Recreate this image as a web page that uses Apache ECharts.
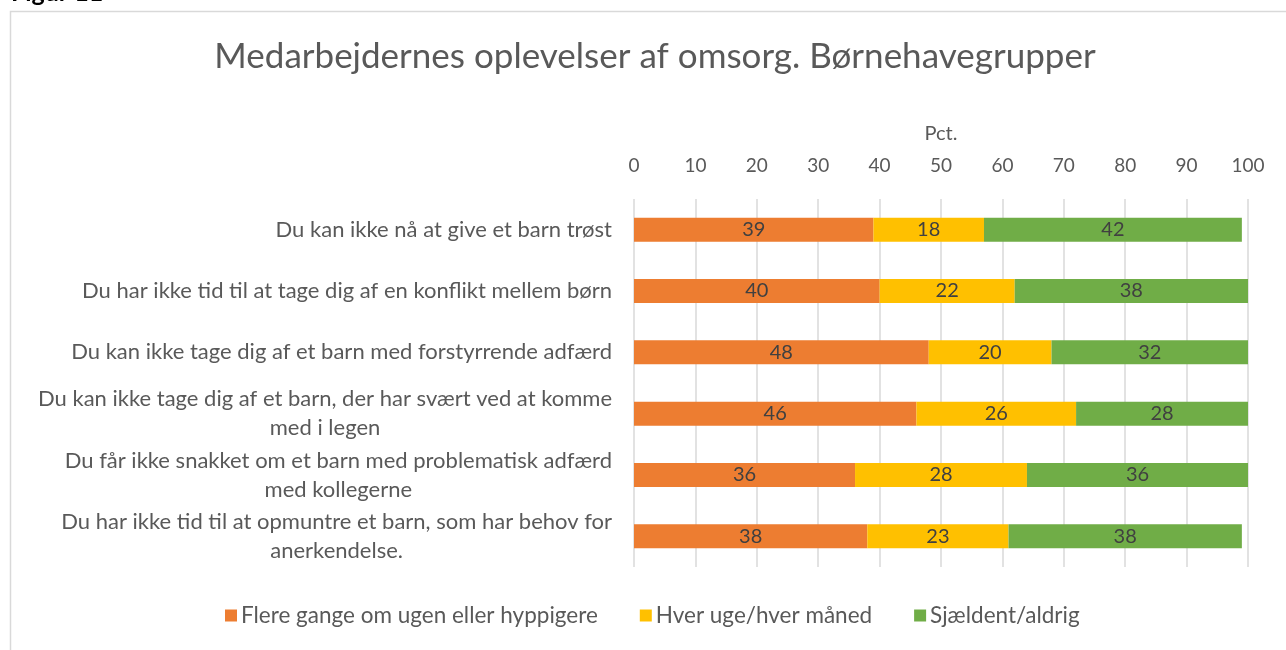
<!DOCTYPE html>
<html>
<head>
<meta charset="utf-8">
<script src="https://cdn.jsdelivr.net/npm/echarts@6/dist/echarts.min.js"></script>
<style>
  html, body { margin: 0; padding: 0; background: #fff; }
  #chart { width: 1286px; height: 650px; }
</style>
</head>
<body>
<div id="chart"></div>
<script>
const categories = [
  'Du kan ikke nå at give et barn trøst',
  'Du har ikke tid til at tage dig af en konflikt mellem børn',
  'Du kan ikke tage dig af et barn med forstyrrende adfærd',
  'Du kan ikke tage dig af et barn, der har svært ved at komme\nmed i legen',
  'Du får ikke snakket om et barn med problematisk adfærd\nmed kollegerne',
  'Du har ikke tid til at opmuntre et barn, som har behov for\nanerkendelse.'
]
const oftenValues = [39, 40, 48, 46, 36, 38]
const monthlyValues = [18, 22, 20, 26, 28, 23]
const rarelyValues = [42, 38, 32, 28, 36, 38]
const seriesNames = ['Flere gange om ugen eller hyppigere', 'Hver uge/hver måned', 'Sjældent/aldrig']
const tickValues = [0, 10, 20, 30, 40, 50, 60, 70, 80, 90, 100]

const FONT = 'Lato'
const chart = echarts.init(document.getElementById('chart'))

const barLabel = {
  show: true,
  position: 'inside',
  color: '#404040',
  fontFamily: FONT,
  fontSize: 20
}

const makeSeries = (name, data, color) => ({
  name,
  type: 'bar',
  stack: 'total',
  data,
  barWidth: 24,
  itemStyle: { color },
  label: barLabel,
  emphasis: { disabled: true }
})

chart.setOption({
  backgroundColor: '#fff',
  animation: false,
  textStyle: { fontFamily: FONT },
  title: {
    text: 'Medarbejdernes oplevelser af omsorg. Børnehavegrupper',
    left: 650,
    textAlign: 'center',
    top: 34,
    textStyle: { color: '#595959', fontSize: 35, fontWeight: 'normal', fontFamily: FONT }
  },
  graphic: [
    {
      type: 'rect',
      shape: { x: 10.5, y: 11.5, width: 1400, height: 800 },
      style: { fill: 'none', stroke: '#d9d9d9', lineWidth: 1.5 },
      silent: true
    },
    {
      type: 'text',
      x: 11,
      y: -20,
      style: { text: 'Figur 11', fill: '#000', font: 'bold 25px ' + FONT },
      silent: true
    }
  ],
  legend: {
    bottom: 18,
    left: 220,
    itemWidth: 12,
    itemHeight: 12,
    itemGap: 42,
    icon: 'rect',
    textStyle: { color: '#595959', fontSize: 22.5, fontFamily: FONT, padding: [0, 0, 0, -1] },
    data: seriesNames
  },
  grid: { left: 634, right: 38, top: 199, bottom: 83 },
  xAxis: {
    type: 'value',
    position: 'top',
    min: 0,
    max: 100,
    interval: 10,
    name: 'Pct.',
    nameLocation: 'middle',
    nameGap: 55,
    nameTextStyle: { color: '#595959', fontSize: 20, fontFamily: FONT },
    axisLine: { show: false },
    axisTick: { show: false },
    axisLabel: {
      color: '#595959',
      fontSize: 19,
      fontFamily: FONT,
      margin: 24,
      formatter: v => (tickValues.includes(v) ? String(v) : '')
    },
    splitLine: { lineStyle: { color: '#d9d9d9', width: 1.5 } }
  },
  yAxis: {
    type: 'category',
    inverse: true,
    data: categories,
    axisLine: { show: false },
    axisTick: { show: false },
    axisLabel: {
      color: '#595959',
      fontSize: 22,
      fontFamily: FONT,
      margin: 22,
      lineHeight: 29,
      formatter: v => {
        const parts = v.split('\n')
        if (parts.length === 1) return '{a|' + parts[0] + '}'
        return '{a|' + parts[0] + '}\n{b|' + parts[1] + '}'
      },
      rich: {
        a: { color: '#595959', fontSize: 22, fontFamily: FONT, lineHeight: 29 },
        b: { color: '#595959', fontSize: 22, fontFamily: FONT, lineHeight: 29, align: 'center' }
      }
    }
  },
  series: [
    makeSeries(seriesNames[0], oftenValues, '#ED7D31'),
    makeSeries(seriesNames[1], monthlyValues, '#FFC000'),
    makeSeries(seriesNames[2], rarelyValues, '#70AD47')
  ]
})
</script>
</body>
</html>
